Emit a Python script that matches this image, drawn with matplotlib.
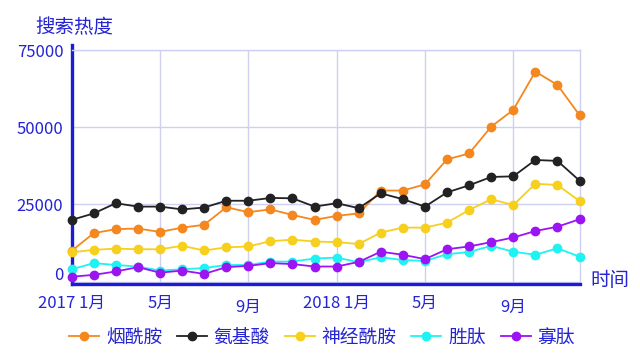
import matplotlib
matplotlib.use("Agg")
import matplotlib.pyplot as plt
import matplotlib.transforms as mtransforms

plt.rcParams['font.family'] = ['Noto Sans CJK SC', 'DejaVu Sans']

months = list(range(24))  # 2017-01 .. 2018-12
tick_pos = [0, 4, 8, 12, 16, 20]
tick_labels = ['2017 1月', '5月', '9月', '2018 1月', '5月', '9月']

niacinamide = [10000, 15700, 17000, 17200, 16100, 17500, 18400, 24100, 22500, 23400, 21600, 20000,
               21300, 22100, 29500, 29500, 31500, 39600, 41500, 50200, 55600, 68000, 63700, 53900]
amino_acid = [20000, 22100, 25400, 24300, 24300, 23400, 24000, 26200, 26200, 27100, 27000, 24300,
              25400, 23800, 28600, 26700, 24300, 28900, 31200, 33900, 34100, 39400, 39100, 32700]
ceramide = [9500, 10300, 10700, 10500, 10500, 11600, 10100, 11100, 11400, 13100, 13600, 13000,
            12800, 12200, 15900, 17500, 17500, 19100, 23200, 26700, 24800, 31700, 31300, 26100]
peptide = [4000, 6000, 5400, 4900, 3600, 4000, 4400, 5400, 5400, 6500, 6500, 7500,
           7800, 6300, 7900, 7000, 6700, 8900, 9600, 11600, 9700, 8700, 10800, 8100]
oligopeptide = [1600, 2200, 3300, 4700, 2900, 3600, 2500, 4700, 5100, 6000, 5700, 4900,
                4900, 6400, 9700, 8700, 7300, 10500, 11400, 12800, 14300, 16400, 17800, 20200]

series = [
    ('烟酰胺', niacinamide, '#f5871f'),
    ('氨基酸', amino_acid, '#222222'),
    ('神经酰胺', ceramide, '#f7cf1d'),
    ('胜肽', peptide, '#1ef2f2'),
    ('寡肽', oligopeptide, '#9b14f2'),
]

blue = '#2424d4'
grid_c = '#cfcff2'

fig = plt.figure(figsize=(6.4, 3.64), dpi=100)
ax = fig.add_axes([0.112, 0.22, 0.7935, 0.6426])

for name, vals, c in series:
    ax.plot(months, vals, color=c, lw=1.3, marker='o', markersize=6, label=name,
            zorder=3, clip_on=False)

ax.set_xlim(0, 23)
ax.set_ylim(-730, 75000)
ax.set_yticks([0, 25000, 50000, 75000])
ax.set_xticks(tick_pos)
ax.set_xticklabels(tick_labels)
ax.grid(True, color=grid_c, lw=1)
ax.set_axisbelow(True)

ax.spines['top'].set_color(grid_c)
ax.spines['top'].set_linewidth(1)
ax.spines['right'].set_color(grid_c)
ax.spines['right'].set_linewidth(1)
for s in ['left', 'bottom']:
    ax.spines[s].set_color('#1c1cd8')
    ax.spines[s].set_linewidth(2.4)
# blue y axis line runs a little above the top gridline
ax.spines['left'].set_bounds(-730, 76600)

ax.tick_params(axis='both', length=0, labelcolor=blue, labelsize=12)
ax.tick_params(axis='y', pad=6)
ax.tick_params(axis='x', pad=8)

# the 9月 labels sit a little lower
for i, t in enumerate(ax.xaxis.get_major_ticks()):
    if tick_labels[i] == '9月':
        t.set_pad(11)

# "0" label sits a bit above its gridline
zero_lab = ax.yaxis.get_major_ticks()[0].label1
zero_lab.set_transform(zero_lab.get_transform() +
                       mtransforms.ScaledTranslation(0, 8 / 100, fig.dpi_scale_trans))

fig.text(35 / 640, 1 - 28 / 364, '搜索热度', color=blue, fontsize=14, va='center', ha='left')
fig.text(590 / 640, 1 - 280 / 364, '时间', color=blue, fontsize=14, va='center', ha='left')

leg = fig.legend(loc='center', bbox_to_anchor=(0.503, 1 - 337 / 364), ncol=5, frameon=False,
                 fontsize=13.5, handlelength=1.6, handletextpad=0.35, columnspacing=0.8,
                 labelcolor=blue)

fig.savefig('out.png', dpi=100)
